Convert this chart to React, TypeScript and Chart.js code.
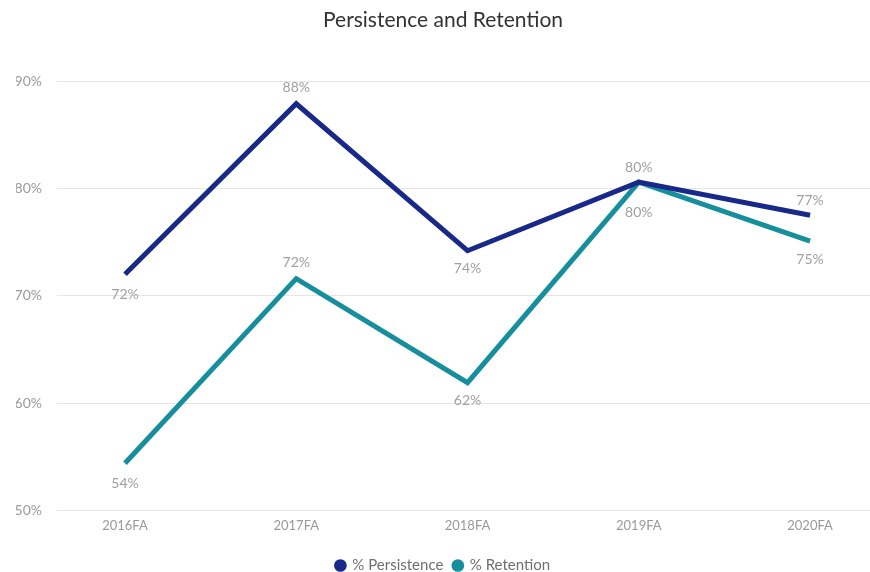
import React, { useEffect, useRef } from "react";
import { Chart, registerables } from "chart.js";

Chart.register(...registerables);

const categories = ["2016FA", "2017FA", "2018FA", "2019FA", "2020FA"];
const persistence = [72.0, 87.9, 74.2, 80.6, 77.5];
const retention = [54.4, 71.6, 61.9, 80.6, 75.1];
const persistenceLabels = ["72%", "88%", "74%", "80%", "77%"];
const retentionLabels = ["54%", "72%", "62%", "80%", "75%"];
const yTicks = [50, 60, 70, 80, 90];

// label placement (px offset from the point, negative = above)
const persistenceLabelOffset = [20, -16, 18, -15, -15];
const retentionLabelOffset = [20, -16, 18, 30, 18];

const NAVY = "#19298a";
const TEAL = "#168e9c";
const FONT = "Lato, 'Open Sans', sans-serif";

const pointLabelPlugin = {
  id: "pointLabelPlugin",
  afterDatasetsDraw(chart: any) {
    const ctx = chart.ctx;
    ctx.save();
    ctx.font = `14px ${FONT}`;
    ctx.fillStyle = "#a0a0a0";
    ctx.textAlign = "center";
    ctx.textBaseline = "middle";
    chart.data.datasets.forEach((ds: any, di: number) => {
      const meta = chart.getDatasetMeta(di);
      meta.data.forEach((pt: any, i: number) => {
        ctx.fillText(ds.pointLabels[i], pt.x, pt.y + ds.labelOffsets[i]);
      });
    });
    ctx.restore();
  },
};

export default function App() {
  const ref = useRef<HTMLCanvasElement | null>(null);

  useEffect(() => {
    if (!ref.current) return;
    const chart = new Chart(ref.current, {
      type: "line",
      data: {
        datasets: [
          {
            label: "% Persistence",
            data: persistence.map((v, i) => ({ x: i, y: v })),
            borderColor: NAVY,
            backgroundColor: NAVY,
            borderWidth: 5,
            pointRadius: 0,
            pointHoverRadius: 0,
            pointBackgroundColor: NAVY,
            pointBorderWidth: 0,
            pointStyle: "circle",
            tension: 0,
            pointLabels: persistenceLabels,
            labelOffsets: persistenceLabelOffset,
          } as any,
          {
            label: "% Retention",
            data: retention.map((v, i) => ({ x: i, y: v })),
            borderColor: TEAL,
            backgroundColor: TEAL,
            borderWidth: 5,
            pointRadius: 0,
            pointHoverRadius: 0,
            pointBackgroundColor: TEAL,
            pointBorderWidth: 0,
            pointStyle: "circle",
            tension: 0,
            pointLabels: retentionLabels,
            labelOffsets: retentionLabelOffset,
          } as any,
        ],
      },
      options: {
        animation: false,
        responsive: false,
        maintainAspectRatio: false,
        layout: { padding: { left: 16, right: 0, top: 0, bottom: -11 } },
        scales: {
          x: {
            type: "linear",
            min: -0.397,
            max: 4.35,
            grid: { display: false, drawTicks: false },
            border: { display: false },
            afterBuildTicks: (scale: any) => {
              scale.ticks = categories.map((_, i) => ({ value: i }));
            },
            afterFit: (scale: any) => {
              scale.height += 6;
            },
            ticks: {
              padding: 8,
              color: "#9a9a9a",
              font: { family: FONT, size: 13 },
              callback: (v: any) => categories[v] ?? "",
              maxRotation: 0,
              autoSkip: false,
            },
          },
          y: {
            min: yTicks[0],
            max: yTicks[yTicks.length - 1],
            grid: { color: "#e6e6e6", lineWidth: 1, drawTicks: false },
            border: { display: false },
            afterBuildTicks: (scale: any) => {
              scale.ticks = yTicks.map((v) => ({ value: v }));
            },
            afterFit: (scale: any) => {
              scale.width = 41;
            },
            ticks: {
              padding: 15,
              color: "#9a9a9a",
              font: { family: FONT, size: 14 },
              callback: (v: any) => `${v}%`,
            },
          },
        },
        plugins: {
          title: {
            display: true,
            text: "Persistence and Retention",
            color: "#333333",
            font: { family: FONT, size: 21, weight: "normal" },
            padding: { top: 8, bottom: 48 },
          },
          legend: {
            position: "bottom",
            labels: {
              usePointStyle: true,
              boxWidth: 9,
              boxHeight: 9,
              padding: 10,
              color: "#707070",
              font: { family: FONT, size: 15 },
            },
          },
          tooltip: { enabled: false },
        },
      } as any,
      plugins: [pointLabelPlugin],
    });
    return () => chart.destroy();
  }, []);

  return (
    <div style={{ position: "fixed", left: 0, top: 0, width: 870, height: 572, background: "#fff" }}>
      <canvas ref={ref} width={870} height={572} style={{ width: 870, height: 572 }} />
    </div>
  );
}
